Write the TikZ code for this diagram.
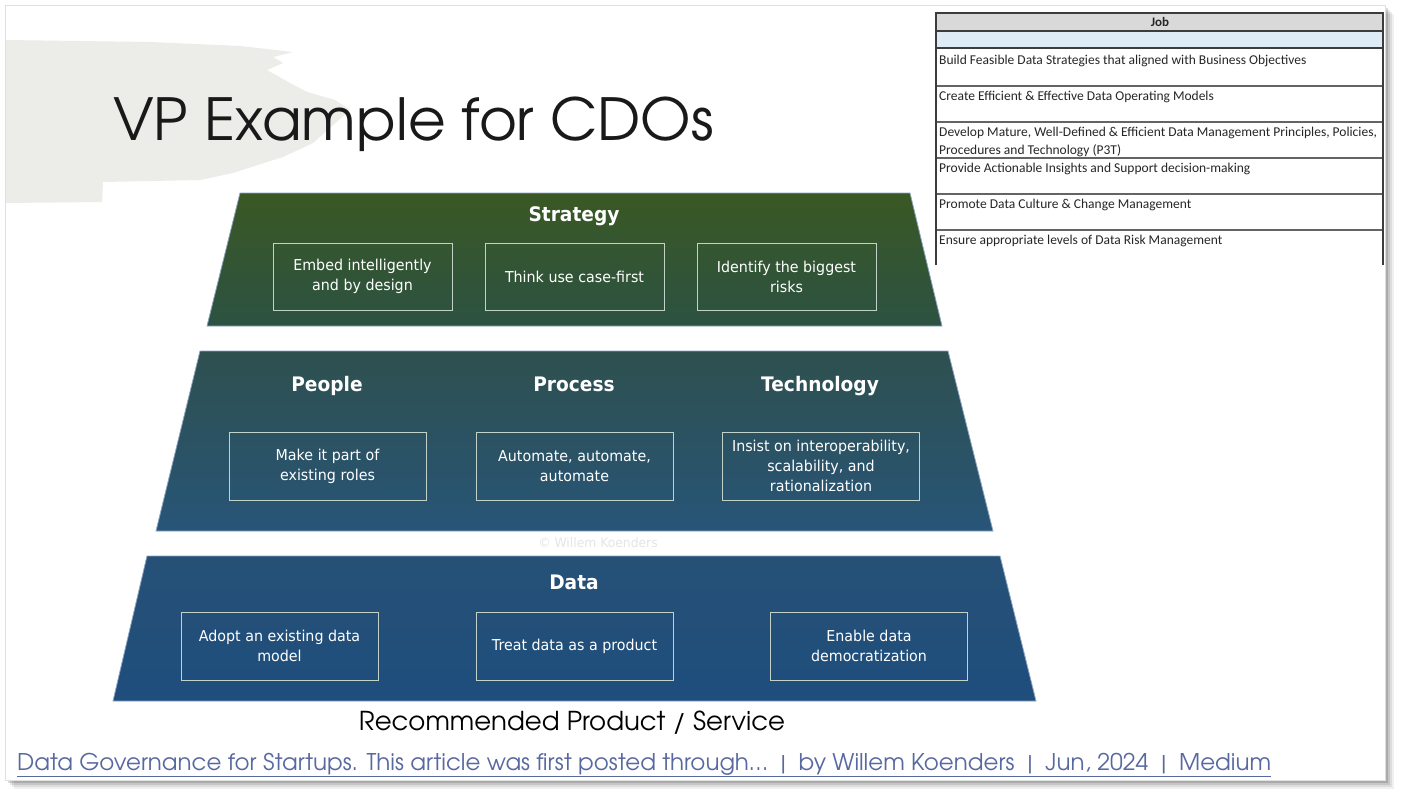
\documentclass[tikz,border=0pt]{standalone}
\usepackage{fontspec}
\setmainfont{DejaVu Sans}
\newfontfamily\titlefont{TeX Gyre Adventor}
\newfontfamily\boxfont[FakeStretch=0.95]{DejaVu Sans}
\newfontfamily\headfont[FakeStretch=0.93]{DejaVu Sans}
\newfontfamily\tabfont{Carlito}
\usetikzlibrary{calc}
\definecolor{stratTop}{RGB}{58,88,36}
\definecolor{stratBot}{RGB}{44,82,66}
\definecolor{midTop}{RGB}{46,80,78}
\definecolor{midBot}{RGB}{40,85,120}
\definecolor{dataTop}{RGB}{38,80,118}
\definecolor{dataBot}{RGB}{31,78,125}
\definecolor{boxline}{RGB}{195,210,200}
\definecolor{edgeline}{RGB}{140,165,195}
\definecolor{brush}{RGB}{236,236,233}
\definecolor{linkblue}{RGB}{88,104,160}
\definecolor{tabhead}{RGB}{217,217,217}
\definecolor{tabblue}{RGB}{221,235,247}
\definecolor{tabline}{RGB}{60,60,60}
\definecolor{tabsep}{RGB}{100,100,100}
\tikzset{
  vbox/.style={draw=boxline, line width=0.8pt, text=white, align=center,
    font=\boxfont\fontsize{15}{20}\selectfont, inner sep=2pt},
  sbox/.style={vbox, minimum width=179pt, minimum height=67pt},
  mbox/.style={vbox, minimum width=197pt, minimum height=68pt},
  lvlhead/.style={anchor=base, text=white, font=\headfont\bfseries\fontsize{20}{24}\selectfont},
  trap/.style={draw=edgeline, line width=0.8pt},
  rowtext/.style={anchor=base west, inner sep=0pt, text=black!85,
    font=\tabfont\fontsize{13.5}{18}\selectfont, align=left},
}
\begin{document}
\begin{tikzpicture}[x=1pt,y=-1pt]
\useasboundingbox (0,0) rectangle (1404,800);
% slide shadow
\foreach \o/\a in {9/0.06,7/0.08,5/0.10,3/0.14}{
  \fill[black, opacity=\a] (5+\o,5+\o) rectangle (1385+\o,780+\o);
}
\fill[white] (5,5) rectangle (1385,780);
\draw[black!12, line width=0.6pt] (5,5) rectangle (1385,780);
% brush stroke
\fill[brush] (6,40) -- (150,42) -- (240,46) -- (293,52) -- (273,57) -- (283,63)
  -- (267,70) -- (290,83) -- (307,92) -- (335,100) -- (350,110) -- (332,126)
  -- (313,143) -- (283,157) -- (267,162) -- (233,173) -- (200,180) -- (103,182)
  -- (102,202) -- (6,203) -- cycle;
% title
\node[anchor=base west, inner sep=0pt, text=black!90, font=\titlefont\fontsize{58}{60}\selectfont] (title) at (113,140) {VP Example for CDOs};
% table
\fill[tabhead] (936,13) rectangle (1383,31);
\fill[tabblue] (936,31) rectangle (1383,48);
\draw[tabsep, line width=1.2pt] (936,86) -- (1383,86) (936,122) -- (1383,122)
  (936,158) -- (1383,158) (936,194) -- (1383,194) (936,230) -- (1383,230);
\draw[tabline, line width=1.6pt] (936,265) -- (936,13) -- (1383,13) -- (1383,265);
\draw[tabline, line width=1.6pt] (936,31) -- (1383,31) (936,48) -- (1383,48);
\node[font=\tabfont\bfseries\fontsize{13}{15}\selectfont, text=black!85] (job) at (1160,22) {Job};
\node[rowtext] (r1) at (939,64) {Build Feasible Data Strategies that aligned with Business Objectives};
\node[rowtext] (r2) at (939,100) {Create Efficient \& Effective Data Operating Models};
\node[rowtext] (r3) at (939,154) {Develop Mature, Well-Defined \& Efficient Data Management Principles, Policies,\\Procedures and Technology (P3T)};
\node[rowtext] (r4) at (939,172) {Provide Actionable Insights and Support decision-making};
\node[rowtext] (r5) at (939,208) {Promote Data Culture \& Change Management};
\node[rowtext] (r6) at (939,244) {Ensure appropriate levels of Data Risk Management};
% strategy level
\shade[top color=stratTop, bottom color=stratBot] (240,193) -- (910,193) -- (942,326) -- (207,326) -- cycle;
\draw[trap] (240,193) -- (910,193) -- (942,326) -- (207,326) -- cycle;
\node[lvlhead] (strategy) at (574,221) {Strategy};
\node[sbox] (s1) at (362.5,276.5) {Embed intelligently\\and by design};
\node[sbox] (s2) at (574.5,276.5) {Think use case-first};
\node[sbox] (s3) at (786.5,276.5) {Identify the biggest\\risks};
% people/process/technology level
\shade[top color=midTop, bottom color=midBot] (200,351) -- (948,351) -- (993,531) -- (156,531) -- cycle;
\draw[trap] (200,351) -- (948,351) -- (993,531) -- (156,531) -- cycle;
\node[lvlhead] (people) at (327,391) {People};
\node[lvlhead] (process) at (574,391) {Process};
\node[lvlhead] (technology) at (820,391) {Technology};
\node[mbox] (m1) at (327.5,466) {Make it part of\\existing roles};
\node[mbox] (m2) at (574.5,466) {Automate, automate,\\automate};
\node[mbox] (m3) at (821,466) {Insist on interoperability,\\scalability, and\\rationalization};
% watermark
\node[text=black!10, font=\boxfont\fontsize{13}{15}\selectfont] (wm) at (598,543) {\textcopyright{} Willem Koenders};
% data level
\shade[top color=dataTop, bottom color=dataBot] (147,556) -- (1000,556) -- (1036,701) -- (113,701) -- cycle;
\draw[trap] (147,556) -- (1000,556) -- (1036,701) -- (113,701) -- cycle;
\node[lvlhead] (data) at (574,589) {Data};
\node[mbox] (d1) at (279.5,646) {Adopt an existing data\\model};
\node[mbox] (d2) at (574.5,646) {Treat data as a product};
\node[mbox] (d3) at (869,646) {Enable data\\democratization};
% captions
\node[font=\titlefont\fontsize{26}{28}\selectfont] (rec) at (572,723) {Recommended Product / Service};
\node[anchor=base west, inner sep=0pt, text=linkblue, font=\titlefont\fontsize{23}{25}\selectfont] (link) at (17,770)
  {\underline{Data Governance for Startups. This article was first posted through\dots\ \ |\ \ by Willem Koenders\ \ |\ \ Jun, 2024\ \ |\ \ Medium}};
\end{tikzpicture}
\end{document}
